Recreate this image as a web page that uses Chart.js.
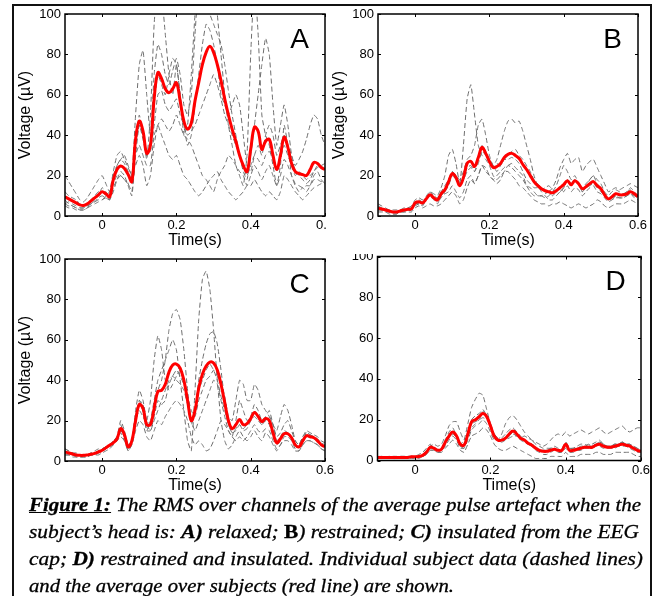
<!DOCTYPE html>
<html><head><meta charset="utf-8">
<script src="https://cdn.jsdelivr.net/npm/chart.js@4/dist/chart.umd.min.js"></script>
<style>
html,body{margin:0;padding:0;background:#fff;width:655px;height:596px;overflow:hidden;}
canvas{position:absolute;display:block;}
#cA{left:0;top:0;z-index:1;}
#cC{left:0;top:245px;z-index:2;}
#cD{left:327px;top:240px;z-index:3;}
#cB{left:327px;top:0;z-index:4;background:#fff;}
#frame{position:absolute;left:12px;top:4px;width:636px;height:620px;border:2px solid #111;z-index:5;pointer-events:none;}
#cap{position:absolute;left:29px;top:491px;z-index:6;font-family:"Liberation Serif","Times New Roman",Times,serif;font-style:italic;font-size:19.5px;line-height:27px;color:#000;-webkit-text-stroke:0.3px #000;}
#cap .row{height:27px;white-space:nowrap;}
#cap .ln{display:inline-block;transform-origin:0 0;white-space:nowrap;}
</style></head><body>
<canvas id="cA" width="345" height="252"></canvas>
<canvas id="cC" width="345" height="252"></canvas>
<canvas id="cD" width="328" height="258"></canvas>
<canvas id="cB" width="328" height="254"></canvas>
<div id="frame"></div>
<div id="cap">
<div class="row"><span class="ln"><b><u>Figure 1:</u></b> The RMS over channels of the average pulse artefact when the</span></div>
<div class="row"><span class="ln">subject’s head is: <b>A)</b> relaxed; <b style="font-style:normal">B</b>) restrained; <b>C)</b> insulated from the EEG</span></div>
<div class="row"><span class="ln">cap; <b>D)</b> restrained and insulated. Individual subject data (dashed lines)</span></div>
<div class="row"><span class="ln">and the average over subjects (red line) are shown.</span></div>
</div>
<script>
// ---- axes ----
const time = [-0.10,-0.09,-0.08,-0.07,-0.06,-0.05,-0.04,-0.03,-0.02,-0.01,
 0.00,0.01,0.02,0.03,0.04,0.05,0.06,0.07,0.08,0.09,
 0.10,0.11,0.12,0.13,0.14,0.15,0.16,0.17,0.18,0.19,
 0.20,0.21,0.22,0.23,0.24,0.25,0.26,0.27,0.28,0.29,
 0.30,0.31,0.32,0.33,0.34,0.35,0.36,0.37,0.38,0.39,
 0.40,0.41,0.42,0.43,0.44,0.45,0.46,0.47,0.48,0.49,
 0.50,0.51,0.52,0.53,0.54,0.55,0.56,0.57,0.58,0.59,
 0.60];
const xTicks = [0, 0.2, 0.4, 0.6];
const yTicks = [0, 20, 40, 60, 80, 100];

// ---- Panel A (relaxed) ----
const avgA = [9.5,8.5,7.5,6.5,5.5,5.2,6,7.5,9,10.5,
 12,11,9.5,18,23,24.8,23.5,20.5,17,38,
 47,42,31,35,58,71,68,63,61,63,
 66,57,47,43,46,57,66,75,81,84,
 81,75,67,58,50,43,37,30,25,22,
 33,44,42,33,37,38,30,23,30,39,
 34,26,22,21,20.5,20,23,26.5,26,24,
 23];
const a1 = [8,6,5,4,3,3,4,6,8,10, 14,12,8,12,18,22,20,15,10,30, 45,40,28,50,95,115,110,90,70,60,
 75,60,40,45,70,100,125,140,145,135, 120,100,80,60,45,35,25,20,15,30, 80,115,90,50,40,35,25,15,25,45,
 35,20,15,12,14,12,15,20,22,18, 16];
const a2 = [20,17,14,11,8,7,9,12,15,18, 20,16,12,22,30,32,28,24,20,50, 75,82,60,40,70,85,80,70,65,72,
 78,70,55,50,60,90,115,120,110,100, 95,90,85,75,62,50,40,30,22,18, 30,45,60,75,88,80,55,35,45,55,
 45,30,22,20,18,16,18,22,25,24, 22];
const a3 = [12,10,9,8,6,5,6,8,10,12, 12,10,9,20,25,28,30,25,20,38, 50,40,30,35,55,70,65,60,70,78,
 75,60,45,35,40,55,70,85,95,92, 85,75,60,55,50,55,60,55,40,25, 22,30,35,30,40,45,40,30,35,40,
 35,30,25,28,32,38,45,50,48,40, 35];
const a4 = [6,7,6,5,4,4,5,6,7,9, 10,9,8,18,25,28,26,22,18,35, 45,38,30,32,45,60,62,55,52,55,
 58,50,45,40,42,45,50,55,60,65, 70,65,58,50,45,40,35,30,25,20, 25,30,28,25,30,32,28,22,28,35,
 30,25,20,22,20,18,20,22,24,25, 26];
const a5 = [5,4,4,3,3,3,4,5,6,7, 8,9,8,14,18,20,18,16,12,30, 35,30,25,25,40,45,48,45,42,45,
 50,45,40,38,35,30,25,20,18,15, 12,18,22,25,30,28,25,22,20,15, 20,25,22,18,22,25,20,15,20,28,
 25,20,16,15,14,15,15,18,18,17, 18];
const a6 = [6,5,5,4,4,4,5,6,7,8, 8,10,12,16,20,20,18,16,20,25, 30,25,15,20,35,45,40,35,30,28,
 30,25,20,18,15,12,10,12,15,18, 20,22,18,15,12,10,8,10,12,15, 15,18,15,12,10,12,10,8,12,20,
 18,15,12,10,8,10,12,14,15,16, 16];

// ---- Panel B (restrained) ----
const avgB = [3.8,3.5,3,2.5,2,2,2.5,3,3.3,3.5,
 6.5,7,6.5,8.5,10.5,9,8,11,13,17,
 21,19,15,19,26,27,24.5,29,34,31,
 27,24,24.5,26,29,30.5,31,30,28.5,25.5,
 23,20,17,15,13.5,12.5,12,11.5,12.5,14,
 15.5,17.5,15.5,17.5,16,13.5,14.5,16,17,15,
 13.5,10.5,8.5,9.5,11,10.5,10.5,11,12,11,
 9.5];
const b1 = [5,4,3,2,2,2,3,3,4,4, 6,6,5,8,10,8,6,10,12,15, 20,18,15,35,58,65,50,35,30,28,
 25,20,18,20,22,25,24,22,20,18, 15,14,12,10,10,9,10,12,15,20, 25,22,18,20,16,12,14,18,20,16,
 14,10,8,9,10,10,11,12,13,11, 10];
const b2 = [3,3,2,2,1,1,2,2,3,3, 5,6,6,8,10,9,7,9,12,18, 22,20,18,22,28,30,35,45,48,40,
 30,25,28,35,42,47,48,46,47,42, 35,28,20,15,12,10,8,8,10,12, 14,18,15,18,16,12,14,15,16,14,
 12,10,8,8,10,9,9,10,11,10, 9];
const b3 = [6,5,4,3,3,3,3,4,4,5, 8,9,8,10,12,11,10,14,20,30, 33,26,16,18,24,25,22,28,35,32,
 28,25,22,25,28,30,32,33,30,28, 25,22,18,16,14,12,12,14,18,24, 28,31,26,28,29,22,25,27,28,24,
 20,16,12,13,14,13,14,15,16,15, 14];
const b4 = [2,2,2,1,1,1,2,2,2,2, 4,5,4,5,6,5,5,6,8,10, 12,10,6,8,14,18,16,20,25,22,
 20,18,16,18,22,22,20,18,15,14, 12,10,8,7,6,6,5,6,6,7, 6,5,4,5,6,5,4,5,6,8,
 7,5,4,5,6,6,6,7,8,7, 6];
const b5 = [4,3,3,2,2,2,2,3,3,3, 7,8,7,9,12,10,9,12,15,18, 22,20,16,18,22,24,22,26,32,30,
 26,24,26,25,28,28,29,28,26,22, 18,16,14,14,13,14,15,13,12,12, 14,18,16,18,15,14,16,18,20,18,
 16,12,10,12,13,12,11,12,14,12, 10];
const b6 = [3,3,3,3,2,2,2,3,3,3, 6,6,6,8,11,9,8,10,11,12, 15,12,9,12,18,20,16,20,25,24,
 20,18,20,22,24,25,26,24,22,20, 15,12,10,10,10,11,12,10,12,14, 12,15,12,14,13,10,12,14,15,12,
 11,9,7,8,9,9,9,10,11,9, 8];

// ---- Panel C (insulated) ----
const avgC = [4.4,4,3.5,3,2.8,2.8,3,3.3,3.8,4.5,
 5.3,6.5,7.8,9,11,16,13,7,10,20,
 28,26,18,18,26,34.5,35,38,44,47.5,
 48,46,40,30,20,25,36,43,47,49,
 48.5,45,38,29,20,16,18,20.5,18,18.5,
 21,24,22,19.5,21,20,14,9,11,13.5,
 13.5,11.5,8,7,10,12.5,12,11.5,10,8,
 7];
const c1 = [3,3,2,2,2,2,2,3,3,3, 4,5,6,8,10,12,10,6,8,18, 30,25,15,20,30,40,45,50,55,60,
 55,40,25,10,5,35,70,90,94,85, 65,40,20,10,6,8,12,15,12,10, 12,15,12,10,14,12,8,5,8,10,
 10,8,5,5,8,10,10,9,8,6, 5];
const c2 = [6,5,4,3,3,3,3,4,5,6, 6,7,8,10,12,20,15,8,10,25, 35,30,20,18,25,35,40,50,65,73,
 75,70,55,35,20,15,20,25,30,35, 40,38,30,22,15,12,20,30,25,20, 22,28,25,20,22,25,18,10,12,15,
 14,12,8,7,10,14,13,12,10,8, 7];
const c3 = [5,4,4,3,3,3,3,3,4,5, 6,7,8,9,10,15,12,6,9,22, 30,28,20,30,50,62,55,40,35,38,
 42,45,40,30,20,25,40,50,58,63, 64,58,45,30,18,14,16,18,15,16, 20,25,22,18,20,18,12,8,10,14,
 13,12,8,7,10,12,12,11,10,8, 7];
const c4 = [4,4,3,3,3,3,3,3,4,4, 5,6,8,9,11,18,12,5,10,20, 28,25,15,15,22,30,28,30,38,42,
 45,42,38,32,25,22,30,35,40,42, 45,42,38,32,22,20,30,40,38,30, 30,38,35,28,25,22,18,12,14,18,
 20,15,10,8,12,15,14,13,12,10, 9];
const c5 = [3,3,3,2,2,2,2,3,3,4, 5,6,7,8,10,14,10,5,8,15, 20,18,12,10,15,20,18,22,25,28,
 30,28,25,20,12,8,10,8,5,6, 10,15,20,18,15,12,10,12,10,12, 15,18,15,14,16,15,10,6,8,12,
 12,10,6,5,8,10,10,9,8,6, 5];
const c6 = [6,5,4,4,3,3,3,4,4,5, 6,7,8,10,12,15,12,8,10,20, 25,22,18,15,20,25,30,35,40,42,
 40,38,35,28,18,25,35,40,45,48, 45,40,32,25,18,14,15,18,16,18, 20,22,20,18,20,22,18,15,22,28,
 25,18,10,8,12,14,13,12,11,9, 8];

// ---- Panel D (restrained and insulated) ----
const avgD = [1.5,1.5,1.5,1.5,1.5,1.5,1.5,1.5,1.5,1.8,
 1.8,2,2.5,4,6.5,6,5,5.5,9,12,
 14,12,8,7.5,13,19,20,21.5,23,21.5,
 17,12,10,10,11,13,14.5,13,11,10,
 8.5,7.5,6,5,4.5,4.5,5,5.5,5,5,
 8,5,5,5.5,6,6.5,6.5,6.5,7.5,8,
 7,6.5,6.5,7,7.5,8,7.5,7,6,5,
 4.5];
const d1 = [2,2,2,1,1,1,2,2,2,2, 2,3,4,6,8,6,5,6,10,14, 16,12,8,10,18,26,30,33,32,25,
 18,12,10,9,10,12,13,12,10,9, 8,7,6,5,5,5,6,6,5,5, 9,6,6,7,8,8,7,8,9,10,
 8,7,7,8,8,9,8,8,7,6, 5];
const d2 = [1,1,1,1,2,2,1,1,1,2, 2,2,3,5,7,8,7,8,12,17, 19,19,14,10,12,16,18,20,24,22,
 16,12,10,11,13,15,16,14,12,10, 8,7,5,4,3,3,4,5,4,4, 6,4,4,5,5,6,6,6,7,7,
 6,6,6,6,7,7,7,6,5,4, 4];
const d3 = [2,1,1,2,1,1,2,1,2,2, 2,2,2,3,5,5,4,5,7,10, 12,10,6,6,10,15,17,18,20,18,
 14,10,10,13,18,21,22,20,17,14, 12,10,8,7,6,6,6,7,6,6, 9,6,6,6,7,7,8,7,8,9,
 8,7,7,7,8,9,8,7,6,5, 5];
const d4 = [1,1,1,2,2,1,1,2,2,2, 2,2,3,4,7,6,5,6,8,11, 13,11,7,6,12,18,19,20,21,20,
 17,13,11,10,10,11,12,12,11,12, 11,10,9,8,7,8,10,12,13,12, 14,12,13,14,15,14,13,14,15,16,
 14,13,14,15,16,17,15,14,15,16, 16];
const d5 = [1,1,1,1,1,1,1,1,1,1, 1,1,2,3,5,5,4,4,6,8, 10,8,5,4,8,12,13,14,16,15,
 12,8,6,5,5,6,7,6,5,4, 3,2,1,1,1,1,2,2,2,2, 4,2,2,2,3,3,3,3,4,4,
 3,3,3,4,4,4,4,4,3,2, 2];
const d6 = [1,2,2,1,1,2,2,2,1,2, 2,2,2,4,6,6,5,5,8,12, 14,12,8,8,14,20,22,23,25,22,
 18,13,10,10,11,12,14,13,11,10, 9,8,7,5,5,5,5,6,5,5, 8,5,5,6,6,7,7,7,8,9,
 8,7,7,8,8,9,8,8,7,6, 5];

// ---- drawing ----
Chart.defaults.font.family = '"Liberation Sans", Arial, sans-serif';
Chart.defaults.color = '#000';

const framePlugin = {
  id: 'frame',
  afterDatasetsDraw(chart, args, opts) {
    const {ctx, chartArea: a, scales: {x, y}} = chart;
    ctx.save();
    ctx.strokeStyle = '#000';
    ctx.lineWidth = 1.5;
    ctx.strokeRect(a.left, a.top, a.right - a.left, a.bottom - a.top);
    ctx.lineWidth = 1;
    ctx.beginPath();
    y.ticks.forEach(t => {
      const py = Math.round(y.getPixelForValue(t.value)) + 0.5;
      ctx.moveTo(a.left, py); ctx.lineTo(a.left + 3, py);
      ctx.moveTo(a.right, py); ctx.lineTo(a.right - 3, py);
    });
    x.ticks.forEach(t => {
      const px = Math.round(x.getPixelForValue(t.value)) + 0.5;
      ctx.moveTo(px, a.bottom); ctx.lineTo(px, a.bottom - 3);
      ctx.moveTo(px, a.top); ctx.lineTo(px, a.top + 3);
    });
    ctx.stroke();
    ctx.fillStyle = '#000';
    ctx.font = '28px "Liberation Sans", Arial, sans-serif';
    ctx.textAlign = 'center';
    ctx.textBaseline = 'alphabetic';
    ctx.fillText(opts.letter, a.right - 25.5, a.top + 33.5);
    ctx.restore();
  }
};

function pts(vals) { return time.map((t, i) => ({x: t, y: vals[i]})); }

function makePanel(id, letter, avg, subs, g) {
  const datasets = [{
    data: pts(avg), borderColor: '#ff0000', borderWidth: 3, pointRadius: 0,
    tension: 0.4, clip: 0
  }];
  subs.forEach(s => datasets.push({
    data: pts(s), borderColor: '#6e6e6e', borderWidth: 1, borderDash: [5, 3],
    pointRadius: 0, tension: 0.15, clip: 0
  }));
  new Chart(document.getElementById(id), {
    type: 'line',
    data: {datasets},
    plugins: [framePlugin],
    options: {
      responsive: false, animation: false, devicePixelRatio: 1,
      layout: {padding: g.pad},
      plugins: {legend: {display: false}, tooltip: {enabled: false}, frame: {letter}},
      scales: {
        x: {
          type: 'linear', min: -0.1, max: 0.6,
          afterBuildTicks: s => { s.ticks = xTicks.map(v => ({value: v})); },
          afterFit: s => { s.height = g.xh; },
          grid: {display: false, drawTicks: false, tickLength: 0}, border: {display: false},
          ticks: {padding: 2, font: {size: 13}, color: '#000', maxRotation: 0,
            callback: v => (v === 0 ? '0' : v.toFixed(1))},
          title: {display: true, text: 'Time(s)', font: {size: 16}, color: '#000',
            padding: {top: 0, bottom: g.xtp}}
        },
        y: {
          type: 'linear', min: 0, max: 100,
          afterBuildTicks: s => { s.ticks = yTicks.map(v => ({value: v})); },
          afterFit: s => { s.width = g.yw; },
          grid: {display: false, drawTicks: false, tickLength: 0}, border: {display: false},
          ticks: {padding: 4, font: {size: 13}, color: '#000', callback: v => String(v)},
          title: {display: g.ytitle, text: 'Voltage (\u00B5V)', font: {size: 16}, color: '#000',
            padding: {top: g.ytp, bottom: 0}}
        }
      }
    }
  });
}

makePanel('cA', 'A', avgA, [a1, a2, a3, a4, a5, a6],
  {pad: {left: 0, top: 14, right: 20, bottom: 0}, yw: 65, xh: 36, xtp: 1.4, ytp: 16.4, ytitle: true});
makePanel('cB', 'B', avgB, [b1, b2, b3, b4, b5, b6],
  {pad: {left: 0, top: 14, right: 17, bottom: 0}, yw: 51, xh: 38, xtp: 3.4, ytp: 3.4, ytitle: true});
makePanel('cC', 'C', avgC, [c1, c2, c3, c4, c5, c6],
  {pad: {left: 0, top: 14, right: 20, bottom: 0}, yw: 65, xh: 36, xtp: 1.4, ytp: 16.4, ytitle: true});
makePanel('cD', 'D', avgD, [d1, d2, d3, d4, d5, d6],
  {pad: {left: 0, top: 16.5, right: 14, bottom: 0}, yw: 50.5, xh: 37.5, xtp: 2.4, ytp: 0, ytitle: false});

// caption lines fitted to the widths they have in the figure
const capWidths = [612, 610, 614, 425];
document.querySelectorAll('#cap .ln').forEach((el, i) => {
  const w = el.getBoundingClientRect().width;
  el.style.transform = 'scaleX(' + (capWidths[i] / w) + ')';
});
</script>
</body></html>
